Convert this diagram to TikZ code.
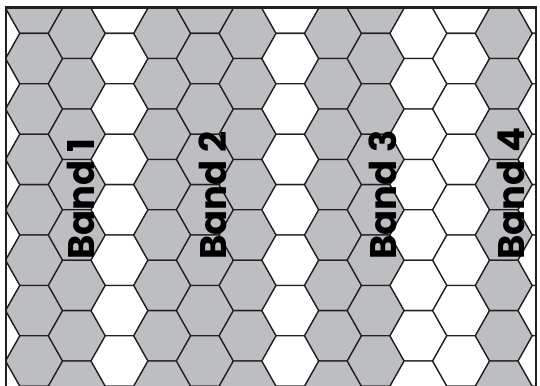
\documentclass[tikz,border=0pt]{standalone}
\usepackage{fontspec}
\setmainfont{Poppins}
\usepackage{tikz}
\usetikzlibrary{positioning}

\definecolor{hexgray}{RGB}{189,190,193}
\definecolor{hexline}{RGB}{35,31,32}

\tikzset{
  hexcell/.style={draw=hexline, line width=1.3pt, line join=round},
  frameline/.style={draw=hexline, line width=2.6pt},
  bandlabel/.style={rotate=90, anchor=base west, inner sep=0pt, text=black,
    font=\fontsize{37}{37}\selectfont\bfseries}
}

\begin{document}
\begin{tikzpicture}[x=1pt, y=-1pt]
    \useasboundingbox (0,0) rectangle (540,385);
    \clip (0,0) rectangle (540,385);

    % honeycomb, one column at a time
    \begin{scope}
        \clip (6,7.5) rectangle (536,395);
        \foreach \k/\cellfill in {0/white, 1/hexgray, 2/hexgray, 3/white, 4/hexgray,
                5/hexgray, 6/hexgray, 7/white, 8/hexgray, 9/hexgray, 10/white,
                11/white, 12/hexgray, 13/white}{
            \pgfmathsetmacro\cx{34.1+42.7*(\k-1)}
            \pgfmathsetmacro\cy{ifthenelse(mod(\k,2)==1, 8.2, 33.4)}
            \foreach \j in {-1,...,8}{
                \filldraw[hexcell, fill=\cellfill] (\cx-28.47, \cy+50.4*\j)
                    -- ++(14.235,25.2) -- ++(28.47,0) -- ++(14.235,-25.2)
                    -- ++(-14.235,-25.2) -- ++(-28.47,0) -- cycle;
            }
        }
    \end{scope}

    % frame
    \draw[frameline] (6,400) -- (6,7.5) -- (536,7.5) -- (536,400);

    % band labels
    \node[bandlabel] (band1) at (94,260) {Band 1};
    \node[bandlabel] (band2) at (226,260) {Band 2};
    \node[bandlabel] (band3) at (396,260) {Band 3};
    \node[bandlabel] (band4) at (524,260) {Band 4};
\end{tikzpicture}
\end{document}
